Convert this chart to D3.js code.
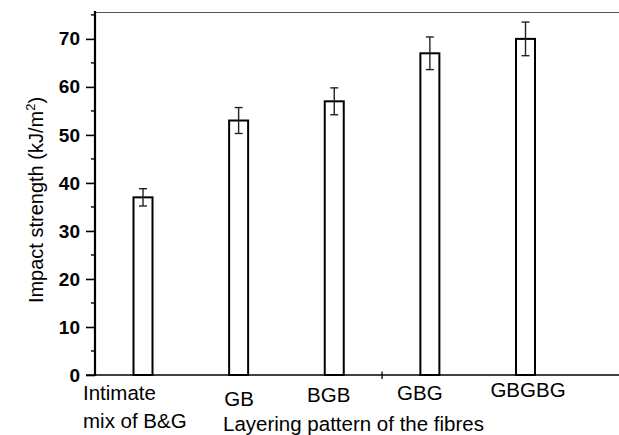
<!DOCTYPE html>
<html><head><meta charset="utf-8">
<script src="https://cdn.jsdelivr.net/npm/d3@7"></script>
<style>body{margin:0;background:#fff}svg{display:block}</style>
</head><body>
<script>
const categories = ["Intimate mix of B&G", "GB", "BGB", "GBG", "GBGBG"];
const values = [37, 53, 57, 67, 70];
const errors = [1.8, 2.7, 2.8, 3.4, 3.5];
const yTicks = [0, 10, 20, 30, 40, 50, 60, 70];
const yMinorTicks = [5, 15, 25, 35, 45, 55, 65, 75];
const yTitle = "Impact strength (kJ/m";
const xTitle = "Layering pattern of the fibres";

const W = 619, H = 435;
const svg = d3.select("body").append("svg").attr("width", W).attr("height", H);
const font = "Arial, 'Liberation Sans', sans-serif";

const y = d3.scaleLinear().domain([0, 75.6]).range([375, 12]);
const x = d3.scalePoint().domain(categories).range([143, 525.5]);
const barW = 19;

// top border (faint)
svg.append("line").attr("x1", 95).attr("x2", W).attr("y1", 12.5).attr("y2", 12.5)
  .attr("stroke", "#555").attr("stroke-width", 1);

// bars
svg.selectAll("rect.bar").data(categories).join("rect")
  .attr("x", d => x(d) - barW / 2)
  .attr("y", (d, i) => y(values[i]))
  .attr("width", barW)
  .attr("height", (d, i) => y(0) - y(values[i]))
  .attr("fill", "#fff").attr("stroke", "#000").attr("stroke-width", 2);

// error bars
const eb = svg.selectAll("g.eb").data(categories).join("g")
  .attr("stroke", "#222").attr("stroke-width", 1.4);
eb.append("line").attr("x1", d => x(d)).attr("x2", d => x(d))
  .attr("y1", (d, i) => y(values[i] + errors[i])).attr("y2", (d, i) => y(values[i] - errors[i]));
eb.append("line").attr("x1", d => x(d) - 4).attr("x2", d => x(d) + 4)
  .attr("y1", (d, i) => y(values[i] + errors[i])).attr("y2", (d, i) => y(values[i] + errors[i]));
eb.append("line").attr("x1", d => x(d) - 4).attr("x2", d => x(d) + 4)
  .attr("y1", (d, i) => y(values[i] - errors[i])).attr("y2", (d, i) => y(values[i] - errors[i]));

// y axis
const yAxis = svg.append("g").attr("transform", "translate(95,0)")
  .call(d3.axisLeft(y).tickValues(yTicks).tickSize(9).tickPadding(6).tickFormat(d3.format("d")));
yAxis.select(".domain").remove();
yAxis.selectAll(".tick line").attr("stroke", "#000").attr("stroke-width", 1.6);
yAxis.selectAll(".tick text").attr("font-family", font).attr("font-weight", "bold")
  .attr("font-size", 19).attr("fill", "#000");
svg.append("g").selectAll("line").data(yMinorTicks).join("line")
  .attr("x1", 91).attr("x2", 95).attr("y1", d => y(d)).attr("y2", d => y(d))
  .attr("stroke", "#000").attr("stroke-width", 1.4);
svg.append("line").attr("x1", 95).attr("x2", 95).attr("y1", 11).attr("y2", 376)
  .attr("stroke", "#000").attr("stroke-width", 2.2);

// x axis
svg.append("line").attr("x1", 86).attr("x2", W).attr("y1", 375).attr("y2", 375)
  .attr("stroke", "#000").attr("stroke-width", 1.6);
const midTick = (x(categories[2]) + x(categories[3])) / 2;
svg.append("line").attr("x1", midTick).attr("x2", midTick).attr("y1", 371.5).attr("y2", 379)
  .attr("stroke", "#000").attr("stroke-width", 1.3);

// x tick labels
const labelStyle = [
  {anchor: "start", dx: -60, dy: 400},
  {anchor: "middle", dx: 0.5, dy: 406},
  {anchor: "middle", dx: -5.5, dy: 402},
  {anchor: "middle", dx: -10, dy: 400},
  {anchor: "middle", dx: 2.5, dy: 397}
];
categories.forEach((c, i) => {
  const s = labelStyle[i];
  const t = svg.append("text").attr("font-family", font).attr("font-size", 20.5)
    .attr("text-anchor", s.anchor).attr("x", x(c) + s.dx).attr("y", s.dy).attr("fill", "#000");
  if (i === 0) {
    t.append("tspan").attr("x", x(c) + s.dx).text("Intimate");
    t.append("tspan").attr("x", x(c) + s.dx).attr("dy", 28).text("mix of B&G");
  } else {
    t.text(c);
  }
});

// axis titles
svg.append("text").attr("font-family", font).attr("font-size", 20.5)
  .attr("x", 223).attr("y", 431).attr("fill", "#000").text(xTitle);
const yt = svg.append("text").attr("font-family", font).attr("font-size", 20)
  .attr("text-anchor", "middle").attr("fill", "#000")
  .attr("transform", "translate(43,200) rotate(-90)");
yt.append("tspan").text(yTitle);
yt.append("tspan").attr("font-size", 13).attr("dy", -8).text("2");
yt.append("tspan").attr("dy", 8).text(")");
</script>
</body></html>
